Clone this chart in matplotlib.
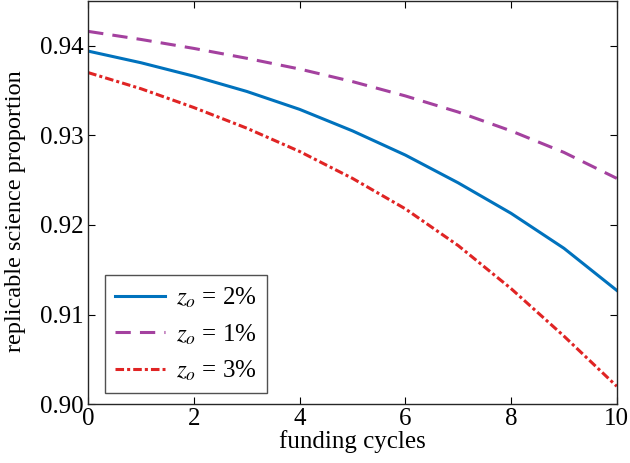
import matplotlib
matplotlib.use("Agg")
import matplotlib.pyplot as plt

plt.rcParams["font.family"] = ["Liberation Serif", "DejaVu Serif"]
plt.rcParams["mathtext.fontset"] = "stix"

# data
cycles = [0, 1, 2, 3, 4, 5, 6, 7, 8, 9, 10]
z2 = [0.9394, 0.9381, 0.9366, 0.9349, 0.9329, 0.9305, 0.9278, 0.9247, 0.9213, 0.9174, 0.9127]
z1 = [0.9416, 0.9407, 0.9397, 0.9386, 0.9374, 0.9360, 0.9344, 0.9326, 0.9305, 0.9281, 0.9252]
z3 = [0.9370, 0.9352, 0.9331, 0.9308, 0.9282, 0.9252, 0.9218, 0.9177, 0.9129, 0.9076, 0.9020]
labels = ["$z_o$ = 2%", "$z_o$ = 1%", "$z_o$ = 3%"]
xticks = [0, 2, 4, 6, 8, 10]
yticks = [0.90, 0.91, 0.92, 0.93, 0.94]

fig = plt.figure(figsize=(6.3, 4.63), dpi=100)
ax = fig.add_axes([0.14, 0.127, 0.839, 0.871])

lw = 2.2
ax.plot(cycles, z2, color="#0072BD", lw=lw, label=labels[0])
ax.plot(cycles, z1, color="#A4419F", lw=lw, ls=(0, (5, 3)), label=labels[1])
ax.plot(cycles, z3, color="#E02424", lw=lw, ls=(0, (2.8, 1, 1, 1)), label=labels[2])

ax.set_xlim(0, 10)
ax.set_ylim(0.90, 0.945)
ax.set_xticks(xticks)
ax.set_yticks(yticks)
ax.set_yticklabels(["0.90", "0.91", "0.92", "0.93", "0.94"])
ax.tick_params(direction="in", top=True, right=True, labelsize=18, length=5, width=0.8, pad=3)
for s in ax.spines.values():
    s.set_linewidth(1.0)
    s.set_color("#262626")

ax.set_xlabel("funding cycles", fontsize=18, labelpad=0)
ax.set_ylabel("replicable science proportion", fontsize=17.5)
ax.yaxis.set_label_coords(-0.118, 0.48)

leg = ax.legend(loc="lower left", fontsize=18, handlelength=2.0, handletextpad=0.45,
                labelspacing=0.5, frameon=True, fancybox=False, edgecolor="#262626",
                borderpad=0.4, borderaxespad=0, bbox_to_anchor=(0.032, 0.027))
leg.get_frame().set_linewidth(1.0)

fig.savefig("out.png", dpi=100)
